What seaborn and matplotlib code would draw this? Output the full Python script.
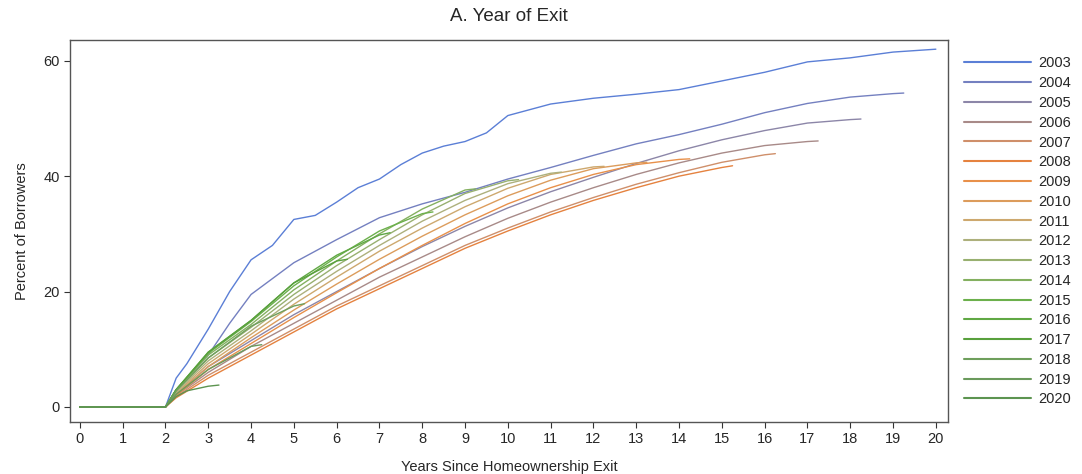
import numpy as np
import pandas as pd
import matplotlib
matplotlib.use("Agg")
import matplotlib.pyplot as plt
import seaborn as sns

years = list(range(2003, 2021))

# x (years since exit) and y (percent of borrowers) for each exit-year cohort
x_2003 = [0, 2, 2.25, 2.5, 3, 3.5, 4, 4.5, 5, 5.5, 6, 6.5, 7, 7.5, 8, 8.5, 9, 9.5, 10, 10.5, 11, 12, 13, 14, 15, 16, 17, 18, 19, 20]
y_2003 = [0, 0, 5, 7.5, 13.5, 20, 25.5, 28, 32.5, 33.2, 35.5, 38, 39.5, 42, 44, 45.2, 46, 47.5, 50.5, 51.5, 52.5, 53.5, 54.2, 55, 56.5, 58, 59.8, 60.5, 61.5, 62]
x_2004 = [0, 2, 2.25, 3, 3.5, 4, 5, 6, 7, 8, 9, 10, 11, 12, 13, 14, 15, 16, 17, 18, 19, 19.25]
y_2004 = [0, 0, 3, 9, 14.5, 19.5, 25, 29, 32.8, 35.2, 37.2, 39.5, 41.5, 43.6, 45.6, 47.2, 49, 51, 52.6, 53.7, 54.3, 54.4]
x_2005 = [0, 2, 2.25, 3, 4, 5, 6, 7, 8, 9, 10, 11, 12, 13, 14, 15, 16, 17, 18, 18.25]
y_2005 = [0, 0, 2.2, 7, 11.5, 16, 20, 24, 27.8, 31.3, 34.5, 37.3, 39.8, 42.2, 44.4, 46.3, 47.9, 49.2, 49.8, 49.9]
x_2006 = [0, 2, 2.25, 3, 4, 5, 6, 7, 8, 9, 10, 11, 12, 13, 14, 15, 16, 17, 17.25]
y_2006 = [0, 0, 2, 6, 10.5, 14.5, 18.5, 22.5, 26, 29.5, 32.7, 35.5, 38, 40.3, 42.3, 44, 45.3, 46, 46.1]
x_2007 = [0, 2, 2.25, 3, 4, 5, 6, 7, 8, 9, 10, 11, 12, 13, 14, 15, 16, 16.25]
y_2007 = [0, 0, 1.8, 5.5, 9.5, 13.5, 17.5, 21, 24.5, 28, 31, 33.8, 36.3, 38.6, 40.6, 42.4, 43.7, 43.9]
x_2008 = [0, 2, 2.25, 3, 4, 5, 6, 7, 8, 9, 10, 11, 12, 13, 14, 15, 15.25]
y_2008 = [0, 0, 1.6, 5, 9, 13, 17, 20.5, 24, 27.5, 30.5, 33.3, 35.8, 38, 40, 41.5, 41.8]
x_2009 = [0, 2, 2.25, 3, 4, 5, 6, 7, 8, 9, 10, 11, 12, 13, 14, 14.25]
y_2009 = [0, 0, 2, 6.5, 11, 15.5, 19.8, 24, 28, 31.8, 35.2, 38, 40.3, 42, 42.9, 43]
x_2010 = [0, 2, 2.25, 3, 4, 5, 6, 7, 8, 9, 10, 11, 12, 13, 13.25]
y_2010 = [0, 0, 2.2, 7, 12, 16.8, 21.3, 25.6, 29.6, 33.3, 36.6, 39.3, 41.3, 42.3, 42.4]
x_2011 = [0, 2, 2.25, 3, 4, 5, 6, 7, 8, 9, 10, 11, 12, 12.25]
y_2011 = [0, 0, 2.4, 7.5, 12.6, 17.8, 22.5, 27, 31, 34.7, 37.9, 40.3, 41.6, 41.7]
x_2012 = [0, 2, 2.25, 3, 4, 5, 6, 7, 8, 9, 10, 11, 11.25]
y_2012 = [0, 0, 2.6, 8, 13.2, 18.7, 23.5, 28, 32.2, 35.8, 38.7, 40.5, 40.7]
x_2013 = [0, 2, 2.25, 3, 4, 5, 6, 7, 8, 9, 10, 10.25]
y_2013 = [0, 0, 2.8, 8.5, 13.8, 19.5, 24.5, 29, 33.3, 37, 39.2, 39.4]
x_2014 = [0, 2, 2.25, 3, 4, 5, 6, 7, 8, 9, 9.25]
y_2014 = [0, 0, 3, 9, 14.3, 20.3, 25.3, 30, 34.3, 37.6, 37.8]
x_2015 = [0, 2, 2.25, 3, 4, 5, 6, 7, 8, 8.25]
y_2015 = [0, 0, 3, 9.3, 14.8, 21, 26, 30.5, 33.5, 33.8]
x_2016 = [0, 2, 2.25, 3, 4, 5, 6, 7, 7.25]
y_2016 = [0, 0, 3, 9.5, 15, 21.5, 26.3, 29.8, 30.2]
x_2017 = [0, 2, 2.25, 3, 4, 5, 6, 6.25]
y_2017 = [0, 0, 3, 9.5, 15, 21.5, 25.3, 25.6]
x_2018 = [0, 2, 2.25, 3, 4, 5, 5.25]
y_2018 = [0, 0, 2.8, 8.5, 14, 17.5, 17.9]
x_2019 = [0, 2, 2.25, 3, 4, 4.25]
y_2019 = [0, 0, 2.2, 6.5, 10.5, 10.8]
x_2020 = [0, 2, 2.25, 2.5, 3, 3.25]
y_2020 = [0, 0, 1.8, 2.8, 3.6, 3.8]

xs = [x_2003, x_2004, x_2005, x_2006, x_2007, x_2008, x_2009, x_2010, x_2011,
      x_2012, x_2013, x_2014, x_2015, x_2016, x_2017, x_2018, x_2019, x_2020]
ys = [y_2003, y_2004, y_2005, y_2006, y_2007, y_2008, y_2009, y_2010, y_2011,
      y_2012, y_2013, y_2014, y_2015, y_2016, y_2017, y_2018, y_2019, y_2020]

colors = ["#5b7fd6", "#7480c0", "#8c86a8", "#a88a88", "#cf8f6a", "#e5823f",
          "#e8904a", "#dc9c5c", "#cda86e", "#adb07c", "#98b070", "#84b060",
          "#6cb04c", "#60a844", "#58a03c", "#6e9f5c", "#6a9a5c", "#5c9450"]

frames = []
for yr, xv, yv in zip(years, xs, ys):
    frames.append(pd.DataFrame({"t": xv, "pct": yv, "year": str(yr)}))
df = pd.concat(frames, ignore_index=True)

sns.set_style("ticks")
plt.rcParams["font.family"] = ["Liberation Sans", "DejaVu Sans"]

fig = plt.figure(figsize=(10.82, 4.74), dpi=100)
ax = fig.add_axes([0.0647, 0.1097, 0.8113, 0.806])

sns.lineplot(data=df, x="t", y="pct", hue="year", palette=colors,
             hue_order=[str(y) for y in years], linewidth=1.0, ax=ax,
             estimator=None, sort=False)

ax.set_xlim(-0.23, 20.28)
ax.set_ylim(-2.6, 63.6)
ax.set_xticks(range(0, 21))
ax.set_yticks([0, 20, 40, 60])
ax.tick_params(axis="both", labelsize=10.5, length=4, color="#333333")
for s in ax.spines.values():
    s.set_color("#555555")
    s.set_linewidth(1.0)
ax.set_xlabel("Years Since Homeownership Exit", fontsize=10.5, labelpad=10)
ax.set_ylabel("Percent of Borrowers", fontsize=10.5, labelpad=10)
ax.set_title("A. Year of Exit", fontsize=13.5, pad=14)

handles, labels = ax.get_legend_handles_labels()
leg = ax.legend(handles, labels, loc="upper left", bbox_to_anchor=(1.012, 0.972),
                frameon=False, fontsize=10.5, handlelength=4.6, handletextpad=0.5,
                labelspacing=0.395, borderaxespad=0)
for h in leg.get_lines():
    h.set_linewidth(1.5)

fig.savefig("out.png", dpi=100)
